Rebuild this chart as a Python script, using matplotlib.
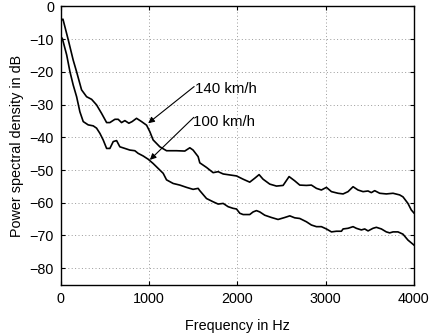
import matplotlib.pyplot as plt
import numpy as np

plt.rcParams['font.family'] = ['Liberation Sans', 'DejaVu Sans']

# 140 km/h
freq_140 = [0, 23, 83, 139, 178, 234, 291, 348, 404, 461, 518, 555, 612, 649, 687,
            725, 770, 807, 857, 914, 971, 1008, 1045, 1121, 1197, 1310, 1404, 1461,
            1498, 1555, 1574, 1650, 1725, 1782, 1839, 1914, 1990, 2065, 2140, 2197,
            2246, 2291, 2367, 2443, 2518, 2586, 2650, 2707, 2782, 2839, 2896, 2952,
            3009, 3066, 3141, 3198, 3254, 3311, 3367, 3424, 3481, 3518, 3556, 3613,
            3688, 3764, 3839, 3877, 3933, 3971, 4000]
psd_140 = [-4.3, -3.9, -10.2, -16.4, -20.0, -25.5, -27.6, -28.4, -30.1, -32.7, -35.5,
           -35.5, -34.5, -34.5, -35.5, -34.9, -35.7, -35.2, -34.2, -35.2, -36.3, -38.3,
           -40.8, -42.9, -44.1, -44.1, -44.2, -43.2, -43.9, -45.9, -47.8, -49.2, -50.8,
           -50.5, -51.2, -51.5, -51.8, -52.8, -53.7, -52.5, -51.4, -52.8, -54.3, -54.9,
           -54.7, -52.0, -53.3, -54.6, -54.7, -54.6, -55.6, -56.1, -55.3, -56.6, -57.1,
           -57.3, -56.6, -55.1, -56.1, -56.6, -56.4, -56.9, -56.3, -57.1, -57.3, -57.1,
           -57.6, -58.2, -60.2, -62.2, -63.1]

# 100 km/h
freq_100 = [0, 15, 65, 102, 139, 178, 215, 253, 309, 366, 404, 442, 479, 518, 555,
            593, 631, 668, 725, 781, 838, 875, 932, 989, 1045, 1102, 1159, 1197, 1272,
            1348, 1424, 1498, 1555, 1574, 1650, 1725, 1782, 1839, 1895, 1951, 1990,
            2027, 2065, 2140, 2178, 2216, 2254, 2310, 2386, 2461, 2537, 2594, 2650,
            2707, 2782, 2839, 2896, 2952, 3009, 3066, 3122, 3179, 3198, 3254, 3311,
            3348, 3405, 3443, 3481, 3537, 3575, 3632, 3688, 3726, 3764, 3820, 3877,
            3933, 4000]
psd_100 = [-10.2, -9.7, -14.8, -19.9, -24.0, -27.6, -32.2, -35.2, -36.2, -36.5, -37.2,
           -38.8, -40.8, -43.4, -43.4, -41.3, -41.0, -42.9, -43.4, -43.9, -44.1, -44.9,
           -45.7, -46.7, -48.0, -49.5, -51.0, -53.0, -54.1, -54.6, -55.3, -55.9, -55.6,
           -56.3, -58.7, -59.7, -60.4, -60.2, -61.2, -61.7, -61.9, -63.2, -63.6, -63.6,
           -62.8, -62.4, -62.8, -63.8, -64.5, -65.1, -64.5, -64.0, -64.6, -64.8, -65.8,
           -66.8, -67.3, -67.3, -68.0, -68.9, -68.7, -68.7, -68.0, -67.8, -67.3, -67.8,
           -68.3, -68.0, -68.6, -67.8, -67.5, -68.0, -68.9, -69.2, -68.9, -68.9, -69.6,
           -71.4, -72.9]

xticks = [0, 1000, 2000, 3000, 4000]
yticks = [0, -10, -20, -30, -40, -50, -60, -70, -80]

fig = plt.figure(figsize=(4.32, 3.36), dpi=100)
ax = fig.add_axes([0.141, 0.153, 0.817, 0.828])

ax.plot(freq_140, psd_140, color='k', lw=1.2)
ax.plot(freq_100, psd_100, color='k', lw=1.2)

ax.set_xlim(0, 4000)
ax.set_ylim(-85, 0)
ax.set_xticks(xticks)
ax.set_yticks(yticks)
ax.grid(True, color='#9a9a9a', linestyle=(0, (1, 2.5)), linewidth=0.7)
ax.tick_params(direction='in', top=True, right=True, labelsize=10.4, length=3,
               pad=5)
for s in ax.spines.values():
    s.set_linewidth(1.0)

ax.set_xlabel('Frequency in Hz', fontsize=10.4, labelpad=10)
ax.set_ylabel('Power spectral density in dB', fontsize=10.4, labelpad=4)

arrow = dict(arrowstyle='-|>', color='k', lw=0.8, mutation_scale=9,
             shrinkA=0, shrinkB=0)
ax.annotate('', xy=(989, -35.7), xytext=(1510, -24.5), arrowprops=arrow)
ax.annotate('', xy=(1008, -46.9), xytext=(1506, -33.9), arrowprops=arrow)
ax.text(1518, -25.2, '140 km/h', fontsize=10.8, ha='left', va='center')
ax.text(1498, -35.2, '100 km/h', fontsize=10.8, ha='left', va='center')

fig.savefig('out.png', dpi=100)
